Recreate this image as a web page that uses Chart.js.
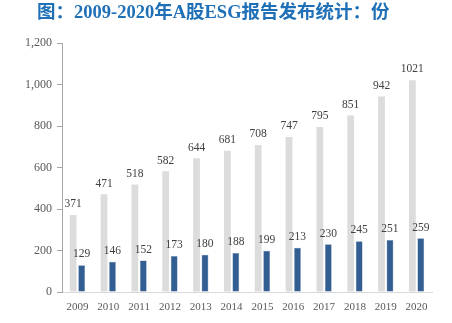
<!DOCTYPE html>
<html><head><meta charset="utf-8">
<script src="https://cdn.jsdelivr.net/npm/chart.js@4/dist/chart.umd.min.js"></script>
<style>html,body{margin:0;padding:0;background:#fff}#wrap{width:452px;height:323px}</style>
</head><body><div id="wrap"><canvas id="c" width="452" height="323"></canvas></div>
<script>
const years = ['2009','2010','2011','2012','2013','2014','2015','2016','2017','2018','2019','2020'];
const totalReports = [371,471,518,582,644,681,708,747,795,851,942,1021];
const otherReports = [129,146,152,173,180,188,199,213,230,245,251,259];
const yTicks = [0,200,400,600,800,1000,1200];
const titleText = '图：2009-2020年A股ESG报告发布统计：份';

const serif = "'Times New Roman','Liberation Serif','Noto Sans CJK SC',serif";

const labelPlugin = {
  id: 'valLabels',
  afterDatasetsDraw(chart) {
    const ctx = chart.ctx;
    ctx.save();
    ctx.font = '11.5px ' + serif;
    ctx.fillStyle = '#404040';
    ctx.textAlign = 'center';
    ctx.textBaseline = 'bottom';
    chart.data.datasets.forEach((ds, i) => {
      chart.getDatasetMeta(i).data.forEach((bar, j) => {
        ctx.fillText(String(ds.data[j]), bar.x, bar.y - 5);
      });
    });
    ctx.restore();
  }
};

const titlePlugin = {
  id: 'leftTitle',
  afterDraw(chart) {
    const ctx = chart.ctx;
    ctx.save();
    ctx.font = "bold 18.5px " + serif;
    ctx.fillStyle = '#1F70B6';
    ctx.textAlign = 'left';
    ctx.textBaseline = 'middle';
    ctx.fillText(titleText, 37, 13);
    ctx.restore();
  }
};

new Chart(document.getElementById('c'), {
  type: 'bar',
  data: {
    labels: years,
    datasets: [
      {label: '总数', data: totalReports, backgroundColor: '#DCDCDC', categoryPercentage: 0.55, barPercentage: 0.8},
      {label: '其他', data: otherReports, backgroundColor: '#335E92', borderColor: '#6F8DB5', borderWidth: 0.5, categoryPercentage: 0.55, barPercentage: 0.8}
    ]
  },
  options: {
    responsive: false,
    animation: false,
    layout: {padding: {left: 12, right: 20, top: 43, bottom: 10}},
    plugins: {
      legend: {display: false},
      tooltip: {enabled: false},
      title: {display: false}
    },
    scales: {
      x: {
        afterFit(s) { s.height = 21; },
        grid: {display: false, drawTicks: false, tickLength: 0},
        border: {color: '#D9D9D9', width: 1},
        ticks: {color: '#595959', font: {family: serif, size: 11}, padding: 9, maxRotation: 0}
      },
      y: {
        min: 0, max: 1200,
        afterFit(s) { s.width = 50; },
        afterBuildTicks(s) { s.ticks = yTicks.map(v => ({value: v})); },
        grid: {drawOnChartArea: false, drawTicks: true, tickLength: 5, color: '#A6A6A6'},
        border: {color: '#A6A6A6', width: 1},
        ticks: {color: '#595959', font: {family: serif, size: 12}, padding: 5,
          callback: v => v.toLocaleString('en-US')}
      }
    }
  },
  plugins: [labelPlugin, titlePlugin]
});
</script></body></html>
